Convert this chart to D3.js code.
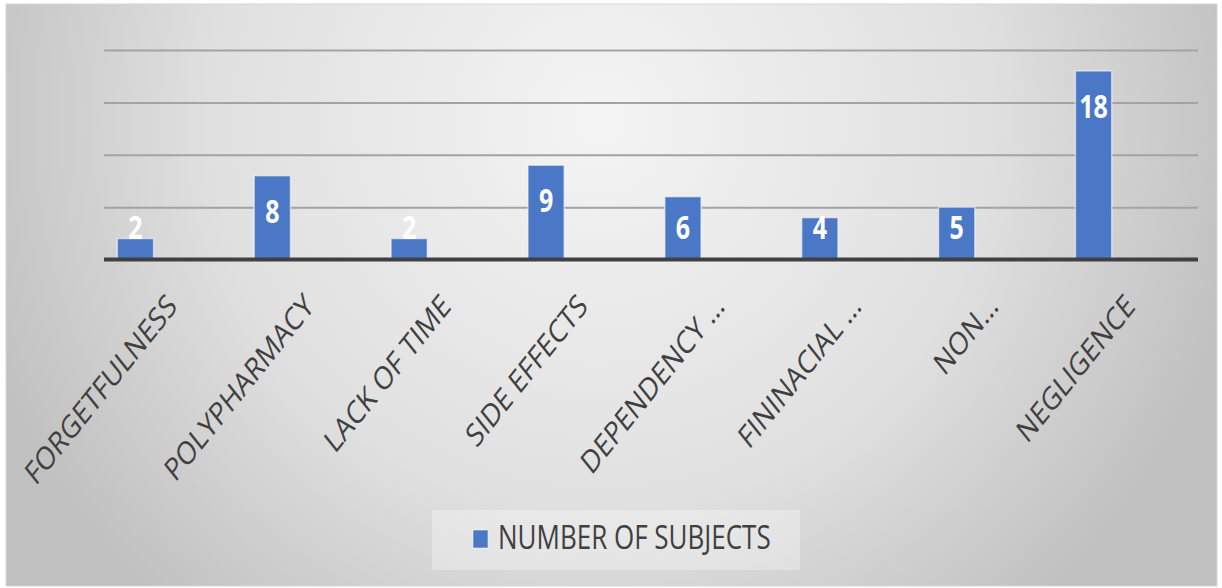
<!DOCTYPE html>
<html>
<head>
<meta charset="utf-8">
<script src="https://cdn.jsdelivr.net/npm/d3@7"></script>
<style>
  html, body { margin: 0; padding: 0; background: #ffffff; }
  svg { display: block; }
</style>
</head>
<body>
<svg id="chart" width="1222" height="588"></svg>
<script>
const categories = ["FORGETFULNESS", "POLYPHARMACY", "LACK OF TIME", "SIDE EFFECTS",
                    "DEPENDENCY \u2026", "FININACIAL \u2026", "NON\u2026", "NEGLIGENCE"];
const values = [2, 8, 2, 9, 6, 4, 5, 18];
const gridTicks = [5, 10, 15, 20];
const seriesName = "NUMBER OF SUBJECTS";

const svg = d3.select("#chart");
const FONT = "'Open Sans', 'DejaVu Sans', sans-serif";
const SY = 1.25;

// background gradient
const defs = svg.append("defs");
const rg = defs.append("radialGradient").attr("id", "bg")
  .attr("gradientUnits", "userSpaceOnUse")
  .attr("cx", 600).attr("cy", 120).attr("r", 650);
rg.append("stop").attr("offset", 0).attr("stop-color", "#f4f4f4");
rg.append("stop").attr("offset", 0.6).attr("stop-color", "#e0e0e0");
rg.append("stop").attr("offset", 1).attr("stop-color", "#c1c1c1");

svg.append("rect").attr("x", 6).attr("y", 4).attr("width", 1211).attr("height", 582)
  .attr("fill", "url(#bg)").attr("stroke", "#d6d6d6").attr("stroke-width", 1);

const plotLeft = 104, plotRight = 1198;
const y = d3.scaleLinear().domain([0, 20]).range([259.5, 50]);
const x = d3.scaleBand().domain(categories).range([67, 1162])
  .paddingInner(0.735).paddingOuter(0.3675);

// gridlines
const grid = svg.append("g").attr("transform", `translate(${plotLeft},0)`)
  .call(d3.axisLeft(y).tickValues(gridTicks).tickSize(-(plotRight - plotLeft)).tickFormat(""));
grid.select(".domain").remove();
grid.selectAll(".tick line").attr("stroke", "#a3a3a3").attr("stroke-width", 2);

// bars
svg.append("g").selectAll("rect").data(values).join("rect")
  .attr("x", (d, i) => x(categories[i]))
  .attr("width", x.bandwidth())
  .attr("y", d => y(d))
  .attr("height", d => y(0) - y(d))
  .attr("fill", "#4a77c6")
  .attr("stroke", "rgba(255,255,255,0.55)")
  .attr("stroke-width", 1.5);

// baseline
svg.append("line").attr("x1", plotLeft).attr("x2", plotRight)
  .attr("y1", y(0)).attr("y2", y(0))
  .attr("stroke", "#404040").attr("stroke-width", 4);

// value labels
svg.append("g").selectAll("text").data(values).join("text")
  .attr("transform", (d, i) => {
    const cx = x(categories[i]) + x.bandwidth() / 2;
    const cy = Math.min(y(d) + 36, 228);
    return `translate(${cx},${cy}) scale(1,${SY})`;
  })
  .attr("text-anchor", "middle")
  .attr("dy", "0.36em")
  .attr("font-family", FONT)
  .attr("font-weight", "bold")
  .attr("font-size", 25)
  .attr("fill", "#ffffff")
  .text(d => d);

// category labels
svg.append("g").selectAll("text").data(categories).join("text")
  .attr("transform", d => {
    const px = x(d) + x.bandwidth() / 2 + 43;
    const py = 308;
    return `translate(${px},${py}) scale(1,${SY}) rotate(-45)`;
  })
  .attr("text-anchor", "end")
  .attr("font-family", FONT)
  .attr("font-size", 25.5)
  .attr("fill", "#404040")
  .text(d => d);

// legend
const lg = svg.append("g");
lg.append("rect").attr("x", 432).attr("y", 510).attr("width", 368).attr("height", 60)
  .attr("fill", "#ffffff").attr("fill-opacity", 0.3);
lg.append("rect").attr("x", 473).attr("y", 530).attr("width", 15).attr("height", 18)
  .attr("fill", "#4a77c6").attr("stroke", "rgba(255,255,255,0.55)").attr("stroke-width", 1);
lg.append("text")
  .attr("transform", `translate(498,549) scale(1,${SY})`)
  .attr("font-family", FONT)
  .attr("font-size", 26)
  .attr("fill", "#404040")
  .text(seriesName);
</script>
</body>
</html>
